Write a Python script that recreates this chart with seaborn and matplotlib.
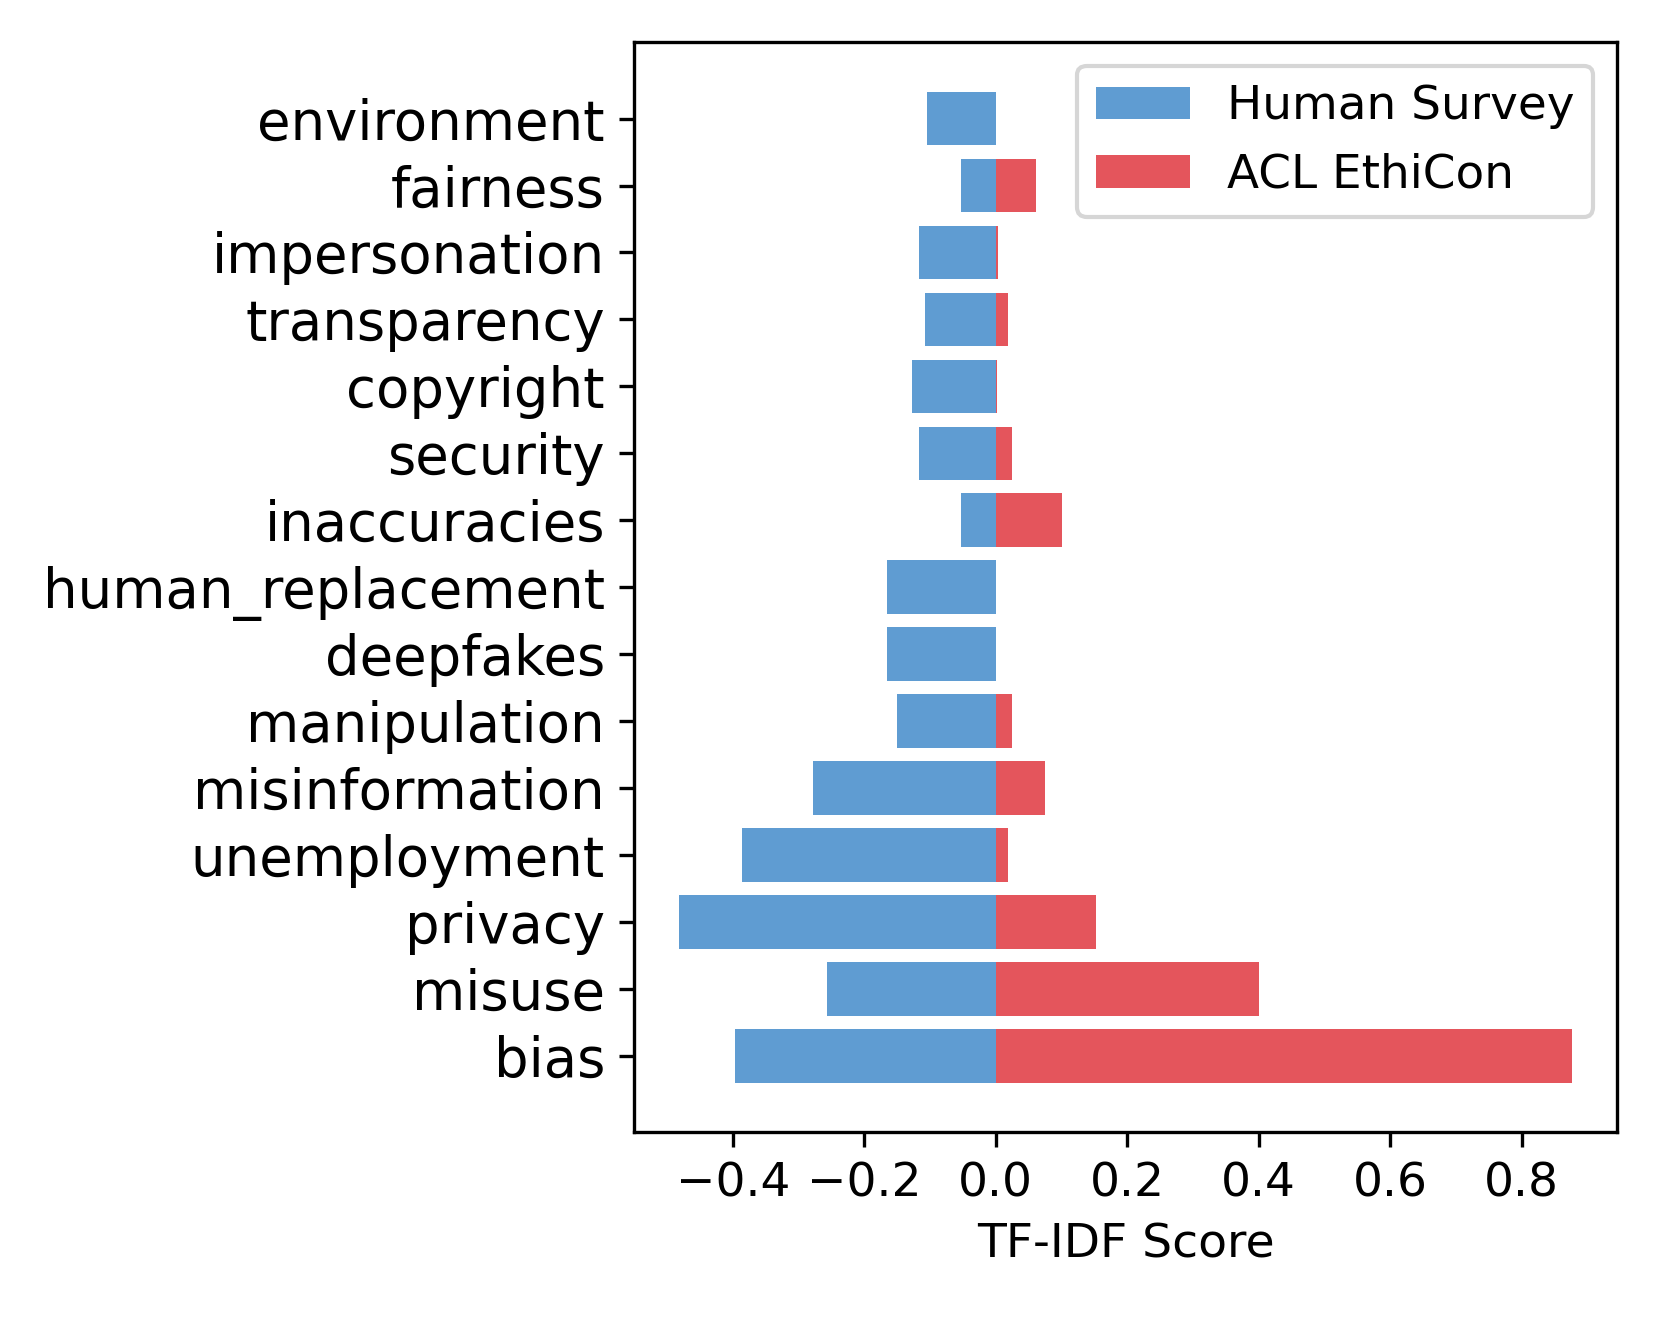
import pandas as pd
import seaborn as sns
import matplotlib.pyplot as plt
from matplotlib.ticker import MultipleLocator

# TF-IDF scores per ethics topic
topics = ["environment", "fairness", "impersonation", "transparency", "copyright",
          "security", "inaccuracies", "human_replacement", "deepfakes", "manipulation",
          "misinformation", "unemployment", "privacy", "misuse", "bias"]
human_survey = [-0.105, -0.053, -0.117, -0.107, -0.128, -0.117, -0.053, -0.165,
                -0.165, -0.150, -0.278, -0.386, -0.482, -0.257, -0.396]
acl_ethicon = [0.0, 0.062, 0.004, 0.019, 0.002, 0.025, 0.101, 0.0,
               0.0, 0.025, 0.075, 0.019, 0.153, 0.400, 0.877]

veri = pd.DataFrame({"topic": topics, "human": human_survey, "acl": acl_ethicon})

fig, ax = plt.subplots(figsize=(1660 / 300, 1321 / 300), dpi=300)
fig.subplots_adjust(left=0.382, right=0.974, top=0.968, bottom=0.143)

sns.barplot(data=veri, x="human", y="topic", order=topics, color="#5f9cd2",
            saturation=1, label="Human Survey", ax=ax)
sns.barplot(data=veri, x="acl", y="topic", order=topics, color="#e4555c",
            saturation=1, label="ACL EthiCon", ax=ax)

ax.set_ylim(len(topics) - 1 + 1.14, -1.14)
ax.xaxis.set_major_locator(MultipleLocator(0.2))
ax.set_ylabel("")
ax.set_xlabel("TF-IDF Score", fontsize=11.35)
ax.tick_params(axis="y", labelsize=13.1)
ax.tick_params(axis="x", labelsize=11.3)
ax.legend(loc="upper right", fontsize=11.25)

plt.savefig("out.png", dpi=300)
